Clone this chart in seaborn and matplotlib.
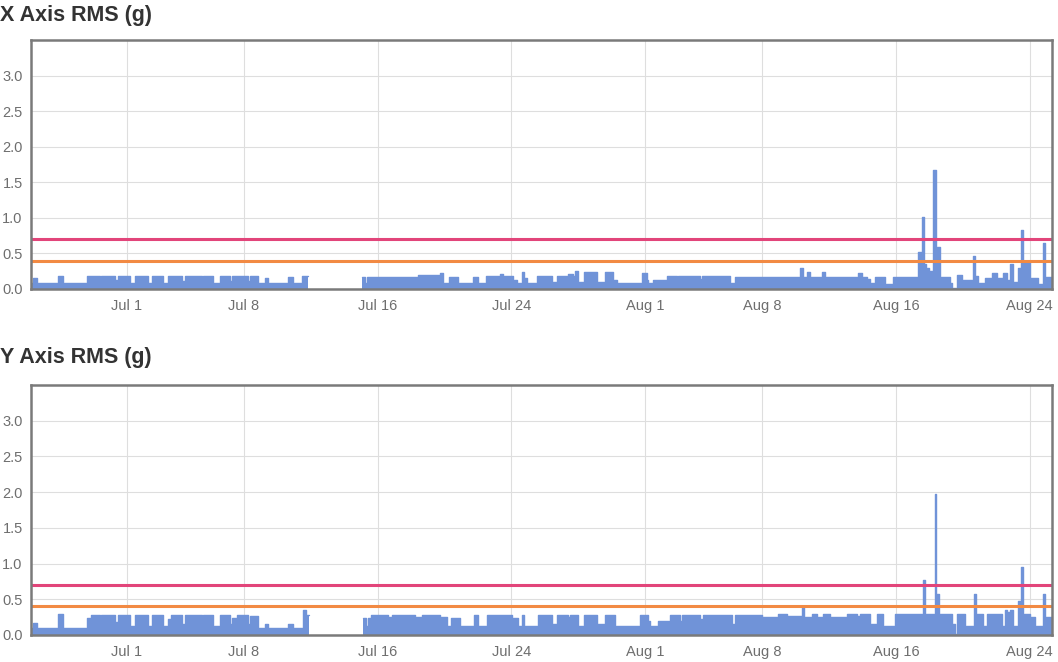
import numpy as np
import pandas as pd
import matplotlib
matplotlib.use('Agg')
import matplotlib.pyplot as plt
import seaborn as sns

# time in days since Jun 25 00:00, value holds until the next time (step data)
start = pd.Timestamp('2018-06-25')

x_seg1_days = [0.26, 0.38, 0.62, 1.88, 2.17, 3.61, 4.39, 4.45, 5.28, 5.46, 6.18, 6.48,
               7.26, 7.50, 8.16, 8.46, 9.29, 9.47, 10.49, 10.55, 11.15, 11.56, 12.16,
               12.28, 13.24, 13.36, 13.84, 14.26, 14.43, 15.63, 15.93, 16.47, 16.83]
x_seg1_rms = [0.08, 0.15, 0.08, 0.18, 0.08, 0.18, 0.12, 0.18, 0.12, 0.18, 0.08, 0.18,
              0.08, 0.18, 0.08, 0.18, 0.11, 0.18, 0.11, 0.18, 0.08, 0.18, 0.11,
              0.18, 0.11, 0.18, 0.08, 0.15, 0.08, 0.17, 0.08, 0.18, 0.18]

x_seg2_days = [20.05, 20.24, 20.36, 23.42, 24.72, 24.92, 25.26, 25.82, 26.71, 27.01,
               27.45, 28.31, 28.51, 29.11, 29.31, 29.61, 29.72, 29.91, 30.51, 31.40,
               31.70, 32.40, 32.69, 32.80, 32.99, 33.35, 34.09, 34.59, 35.09, 35.29,
               36.78, 37.08, 37.18, 37.48, 38.28, 38.88, 38.98, 40.27, 40.37, 42.07,
               42.37, 46.25, 46.45, 46.69, 46.85, 47.55, 47.75, 49.74, 49.94, 50.24,
               50.44, 50.74, 51.34, 51.83, 53.33, 53.53, 53.67, 53.79, 53.99, 54.23,
               54.37, 54.46, 54.63, 55.23, 55.33, 55.62, 55.92, 56.62, 56.74, 56.92,
               57.32, 57.72, 58.02, 58.42, 58.62, 58.81, 58.97, 59.31, 59.49, 59.61,
               60.01, 60.51, 60.77, 60.89, 61.40]
x_seg2_rms = [0.17, 0.08, 0.17, 0.19, 0.23, 0.08, 0.17, 0.08, 0.17, 0.08,
              0.18, 0.21, 0.18, 0.12, 0.08, 0.24, 0.16, 0.08, 0.18, 0.10,
              0.18, 0.21, 0.18, 0.25, 0.10, 0.24, 0.10, 0.24, 0.12, 0.08,
              0.22, 0.12, 0.08, 0.12, 0.18, 0.12, 0.18, 0.14, 0.18, 0.08,
              0.17, 0.30, 0.17, 0.24, 0.17, 0.24, 0.17, 0.23, 0.17, 0.14,
              0.09, 0.17, 0.07, 0.17, 0.52, 1.01, 0.35, 0.30, 0.25, 1.67,
              0.35, 0.59, 0.17, 0.08, 0.02, 0.20, 0.13, 0.47, 0.18, 0.09,
              0.16, 0.23, 0.16, 0.23, 0.13, 0.35, 0.10, 0.30, 0.83, 0.40,
              0.16, 0.07, 0.65, 0.17, 0.17]

y_seg1_days = [0.26, 0.38, 0.62, 1.88, 2.17, 3.61, 3.85, 4.39, 4.45, 5.28, 5.46, 6.18,
               6.48, 7.26, 7.50, 8.16, 8.46, 8.66, 9.29, 9.47, 10.49, 10.55, 11.15,
               11.56, 12.16, 12.28, 12.60, 13.24, 13.36, 13.84, 14.26, 14.43, 15.63,
               15.93, 16.53, 16.71, 16.91]
y_seg1_rms = [0.10, 0.17, 0.10, 0.29, 0.10, 0.24, 0.28, 0.18, 0.28, 0.18, 0.28, 0.12,
              0.28, 0.12, 0.28, 0.12, 0.22, 0.28, 0.15, 0.28, 0.18, 0.28, 0.12,
              0.28, 0.15, 0.24, 0.28, 0.15, 0.27, 0.10, 0.15, 0.10, 0.15,
              0.10, 0.35, 0.28, 0.28]

y_seg2_days = [20.12, 20.30, 20.42, 20.62, 21.61, 21.85, 23.23, 23.65, 24.72, 25.12,
               25.38, 25.92, 26.77, 27.01, 27.51, 29.01, 29.41, 29.61, 29.75, 30.60,
               31.40, 31.70, 32.40, 32.50, 32.99, 33.35, 34.09, 34.59, 35.19, 36.68,
               37.18, 37.28, 37.78, 38.48, 39.08, 39.18, 40.27, 40.47, 42.17, 42.37,
               43.96, 44.96, 45.46, 46.35, 46.49, 46.95, 47.25, 47.65, 48.05, 49.05,
               49.64, 49.84, 50.44, 50.84, 51.23, 51.93, 53.59, 53.72, 54.31, 54.42,
               54.58, 55.33, 55.50, 55.66, 56.12, 56.68, 56.80, 57.22, 57.42, 58.32,
               58.52, 58.62, 58.81, 59.01, 59.31, 59.49, 59.61, 60.01, 60.31, 60.77,
               60.89, 61.40]
y_seg2_rms = [0.24, 0.12, 0.24, 0.28, 0.25, 0.28, 0.25, 0.28, 0.25, 0.12,
              0.24, 0.12, 0.28, 0.12, 0.28, 0.24, 0.12, 0.28, 0.12, 0.28,
              0.15, 0.28, 0.25, 0.28, 0.12, 0.28, 0.15, 0.28, 0.12, 0.28,
              0.20, 0.12, 0.20, 0.28, 0.20, 0.28, 0.22, 0.28, 0.15, 0.28,
              0.25, 0.29, 0.27, 0.41, 0.25, 0.29, 0.25, 0.29, 0.25, 0.29,
              0.26, 0.29, 0.15, 0.29, 0.13, 0.29, 0.77, 0.29, 1.97, 0.58,
              0.29, 0.15, 0.01, 0.29, 0.13, 0.58, 0.29, 0.13, 0.29, 0.13,
              0.35, 0.32, 0.35, 0.13, 0.47, 0.95, 0.29, 0.25, 0.13, 0.58,
              0.25, 0.25]

thresholds = [0.7, 0.4]
threshold_colors = ['#e2457a', '#f28a43']
tick_labels = ['Jul 1', 'Jul 8', 'Jul 16', 'Jul 24', 'Aug 1', 'Aug 8', 'Aug 16', 'Aug 24']
tick_days = [6, 13, 21, 29, 37, 44, 52, 60]
y_ticks = [0.0, 0.5, 1.0, 1.5, 2.0, 2.5, 3.0]
titles = ['X Axis RMS (g)', 'Y Axis RMS (g)']

blue = '#7093d8'


def make_frame(segments):
    parts = []
    for i, (days, vals) in enumerate(segments):
        parts.append(pd.DataFrame({'time': start + pd.to_timedelta(days, unit='D'),
                                   'rms': vals, 'segment': i}))
    return pd.concat(parts, ignore_index=True)


panels = [make_frame([(x_seg1_days, x_seg1_rms), (x_seg2_days, x_seg2_rms)]),
          make_frame([(y_seg1_days, y_seg1_rms), (y_seg2_days, y_seg2_rms)])]

sns.set_theme(style='white')
plt.rcParams['font.family'] = ['Liberation Sans', 'DejaVu Sans']

fig = plt.figure(figsize=(10.58, 6.62), dpi=100)
ax_rects = [[31/1058, 1 - 289/662, 1021/1058, 249/662],
            [31/1058, 1 - 635/662, 1021/1058, 250/662]]
title_y = [1 - 15/662, 1 - 357/662]

for df, rect, title, ty in zip(panels, ax_rects, titles, title_y):
    ax = fig.add_axes(rect)
    for seg_id, seg in df.groupby('segment'):
        ax.fill_between(seg['time'], seg['rms'], step='post', color=blue, lw=0, zorder=2)
        sns.lineplot(data=seg, x='time', y='rms', drawstyle='steps-post', color=blue,
                     lw=1.0, ax=ax, zorder=3)
    for thr, col in zip(thresholds, threshold_colors):
        ax.axhline(thr, color=col, lw=2.2, zorder=4)

    ax.set_xlim(start + pd.Timedelta(days=0.26), start + pd.Timedelta(days=61.33))
    ax.set_ylim(0, 3.5)
    ax.set_xticks(start + pd.to_timedelta(tick_days, unit='D'))
    ax.set_xticklabels(tick_labels)
    ax.set_yticks(y_ticks)
    ax.set_yticklabels([f'{v:.1f}' for v in y_ticks])
    ax.grid(True, color='#dedede', lw=0.8, zorder=0)
    ax.set_axisbelow(True)
    ax.tick_params(axis='both', length=0, labelsize=10.5, colors='#6e6e6e')
    ax.tick_params(axis='x', pad=15)
    ax.tick_params(axis='y', pad=6)
    for lab in ax.get_xticklabels():
        lab.set_verticalalignment('baseline')
    ax.set_xlabel('')
    ax.set_ylabel('')
    for sp in ax.spines.values():
        sp.set_color('#7a7a7a')
        sp.set_linewidth(1.8)
        sp.set_zorder(5)
    fig.text(0.0, ty, title, ha='left', va='center', fontsize=15.5,
             fontweight='bold', color='#333333')

fig.savefig('out.png', dpi=100)
